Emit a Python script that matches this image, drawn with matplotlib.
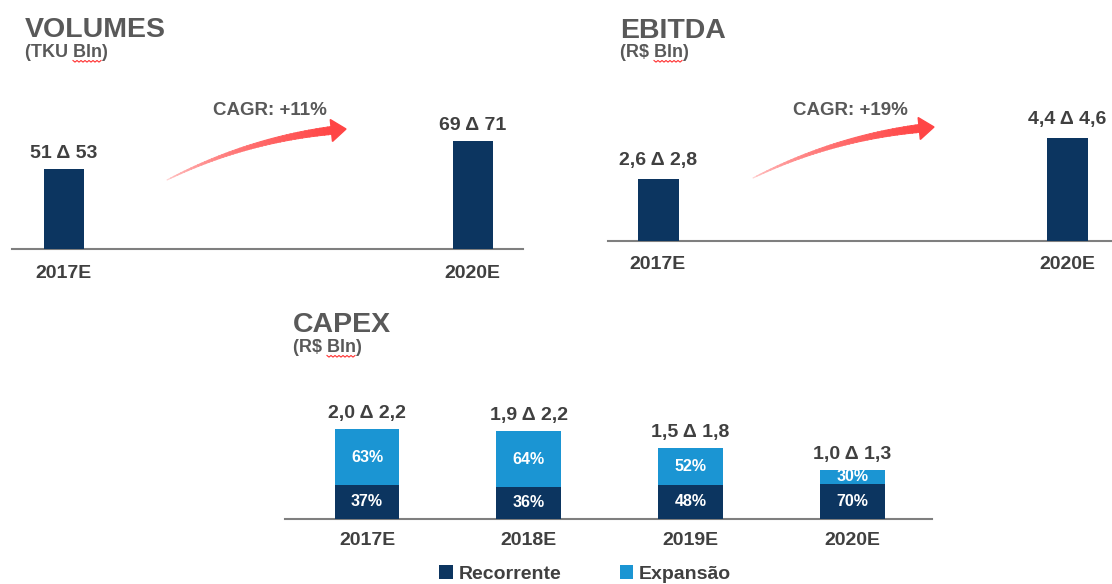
import numpy as np
import matplotlib
matplotlib.use('Agg')
import matplotlib.pyplot as plt
from matplotlib.collections import PolyCollection
from matplotlib.patches import Polygon
from matplotlib.text import Text
from matplotlib.colors import to_rgb

# ---- data ----
vol_years = ['2017E', '2020E']
vol_low = [51, 69]
vol_high = [53, 71]
vol_cagr = 'CAGR: +11%'

ebitda_years = ['2017E', '2020E']
ebitda_low = [2.6, 4.4]
ebitda_high = [2.8, 4.6]
ebitda_cagr = 'CAGR: +19%'

capex_years = ['2017E', '2018E', '2019E', '2020E']
capex_low = [2.0, 1.9, 1.5, 1.0]
capex_high = [2.2, 2.2, 1.8, 1.3]
recorrente_pct = [37, 36, 48, 70]
expansao_pct = [63, 64, 52, 30]
legend_labels = ['Recorrente', 'Expansão']

# ---- style ----
NAVY = '#0c3560'
LIGHT = '#1b95d3'
DARK = '#404040'
GRAY = '#595959'
LINE = '#7f7f7f'
RED = '#ff4545'

plt.rcParams['font.family'] = ['Liberation Sans', 'DejaVu Sans']
plt.rcParams['font.weight'] = 'bold'

W, H = 1112, 584
fig = plt.figure(figsize=(W / 100, H / 100), dpi=100)


def fx(x):
    return x / W


def fy(y):
    return 1 - y / H


def panel(left, right, base, top, c0, step, scale):
    ax = fig.add_axes([fx(left), fy(base), (right - left) / W, (base - top) / H])
    ax.set_xlim((left - c0) / step, (right - c0) / step)
    ax.set_ylim(0, (base - top) / scale)
    for s in ['top', 'left', 'right']:
        ax.spines[s].set_visible(False)
    ax.spines['bottom'].set_color(LINE)
    ax.spines['bottom'].set_linewidth(1.5)
    ax.set_yticks([])
    ax.patch.set_alpha(0)
    return ax


def fmt(v, dec):
    return f'{v:.{dec}f}'.replace('.', ',')


def range_label(lo, hi, dec):
    return f'{fmt(lo, dec)} Δ {fmt(hi, dec)}'


def simple_bars(ax, years, low, high, dec, width, gap, pad):
    mids = [(a + b) / 2 for a, b in zip(low, high)]
    x = np.arange(len(years))
    ax.bar(x, mids, width=width, color=NAVY, zorder=3)
    for xi, m, lo, hi in zip(x, mids, low, high):
        ax.annotate(range_label(lo, hi, dec), (xi, m), xytext=(0, gap),
                    textcoords='offset points', ha='center', va='baseline',
                    fontsize=14, color=DARK)
    ax.set_xticks(x, years)
    ax.tick_params(axis='x', length=0, pad=pad, labelsize=14, labelcolor=DARK)


def arrow(p0, p2, bend, head_len=15, head_w=22, tail_w=8):
    p0 = np.array(p0, float)
    p2 = np.array(p2, float)
    d = p2 - p0
    n = np.array([d[1], -d[0]]) / np.hypot(*d)
    p1 = (p0 + p2) / 2 + n * bend
    t = np.linspace(0, 1, 400)
    pts = ((1 - t) ** 2)[:, None] * p0 + (2 * (1 - t) * t)[:, None] * p1 + (t ** 2)[:, None] * p2
    der = (2 * (1 - t))[:, None] * (p1 - p0) + (2 * t)[:, None] * (p2 - p1)
    dist = np.hypot(*(pts - p2).T)
    kb = np.argmax(dist < head_len)
    pts, der = pts[:kb + 1], der[:kb + 1]
    nrm = np.stack([-der[:, 1], der[:, 0]], 1)
    nrm /= np.hypot(*nrm.T)[:, None]
    frac = np.linspace(0, 1, len(pts))
    half = (0.3 + frac * (tail_w - 0.3)) / 2
    left = pts + nrm * half[:, None]
    right = pts - nrm * half[:, None]
    quads, cols = [], []
    c_end = np.array(to_rgb(RED))
    c_start = np.array(to_rgb('#ffd6d6'))
    step = 8
    for i in range(0, len(pts) - 1, step):
        j = min(i + step + 1, len(pts) - 1)
        q = [left[i], left[j], right[j], right[i]]
        quads.append([(fx(a), fy(b)) for a, b in q])
        f = frac[i] ** 0.5
        cols.append(c_start * (1 - f) + c_end * f)
    pc = PolyCollection(quads, facecolors=cols, edgecolors=cols, linewidths=0.6,
                        transform=fig.transFigure)
    fig.add_artist(pc)
    b = pts[-1]
    u = (p2 - b) / np.hypot(*(p2 - b))
    v = np.array([-u[1], u[0]])
    tri = [b + v * head_w / 2, p2, b - v * head_w / 2]
    fig.add_artist(Polygon([(fx(a), fy(c)) for a, c in tri], closed=True,
                           color=RED, transform=fig.transFigure))


SUB_SIZE = 13


def title(x, y, main, sub, sub_y):
    fig.text(fx(x), fy(y), main, fontsize=20.5, color=GRAY, va='baseline')
    fig.text(fx(x), fy(sub_y), sub, fontsize=SUB_SIZE, color=GRAY, va='baseline')
    return (x, sub_y, sub)


# ---- VOLUMES ----
ax_v = panel(12, 523, 248.5, 100, 63.5, 409, 1.53)
simple_bars(ax_v, vol_years, vol_low, vol_high, 0, 40 / 409, 8, 12)
fig.text(fx(270), fy(115), vol_cagr, ha='center', va='baseline', fontsize=13.5, color=GRAY)
arrow((167, 180), (346, 129), 18)

# ---- EBITDA ----
ax_e = panel(608, 1112, 240.5, 90, 658, 409.5, 22.8)
simple_bars(ax_e, ebitda_years, ebitda_low, ebitda_high, 1, 41 / 409.5, 10, 11.5)
fig.text(fx(850), fy(115), ebitda_cagr, ha='center', va='baseline', fontsize=13.5, color=GRAY)
arrow((753, 178), (934, 127), 18)

# ---- CAPEX ----
ax_c = panel(285, 932, 518.5, 380, 367, 161.8, 42.5)
x = np.arange(len(capex_years))
mids = np.array([(a + b) / 2 for a, b in zip(capex_low, capex_high)])
rec = mids * np.array(recorrente_pct) / 100
exp_ = mids * np.array(expansao_pct) / 100
b1 = ax_c.bar(x, rec, width=0.4, color=NAVY, zorder=3, label=legend_labels[0])
b2 = ax_c.bar(x, exp_, bottom=rec, width=0.4, color=LIGHT, zorder=3, label=legend_labels[1])
for xi, r, e, pr, pe, lo, hi in zip(x, rec, exp_, recorrente_pct, expansao_pct, capex_low, capex_high):
    ax_c.text(xi, r / 2, f'{pr}%', ha='center', va='center', color='white', fontsize=11.5)
    ax_c.text(xi, r + e / 2, f'{pe}%', ha='center', va='center', color='white', fontsize=11.5)
    ax_c.annotate(range_label(lo, hi, 1), (xi, r + e), xytext=(0, 8),
                  textcoords='offset points', ha='center', va='baseline',
                  fontsize=14, color=DARK)
ax_c.set_xticks(x, capex_years)
ax_c.tick_params(axis='x', length=0, pad=10, labelsize=14, labelcolor=DARK)
leg = ax_c.legend(handles=[b1, b2], loc='center left', bbox_to_anchor=(fx(439), fy(574)),
                  bbox_transform=fig.transFigure, ncol=2, frameon=False, borderpad=0,
                  borderaxespad=0, handlelength=0.7, handleheight=0.7, handletextpad=0.3,
                  columnspacing=3.0, fontsize=14)
for t in leg.get_texts():
    t.set_color(DARK)

subs = [
    title(25, 37, 'VOLUMES', '(TKU Bln)', 57),
    title(620, 38, 'EBITDA', '(R$ Bln)', 57),
    title(293, 332, 'CAPEX', '(R$ Bln)', 352),
]

# red spell-check squiggle under "Bln"
fig.canvas.draw()
rend = fig.canvas.get_renderer()


def text_width(s):
    t = Text(0, 0, s, fontsize=SUB_SIZE, fontweight='bold', figure=fig)
    return t.get_window_extent(rend).width


for sx, sy, s in subs:
    pre = s[:s.index('Bln')]
    x0 = sx + text_width(pre)
    x1 = x0 + text_width('Bln')
    xs = np.arange(x0, x1 + 0.1, 2.0)
    ys = sy + 3.5 + np.where(np.arange(len(xs)) % 2 == 0, 0, 1.6)
    fig.add_artist(plt.Line2D(fx(xs), fy(ys), color='#ff3030', lw=0.8,
                              transform=fig.transFigure))

fig.savefig('out.png', dpi=100)
